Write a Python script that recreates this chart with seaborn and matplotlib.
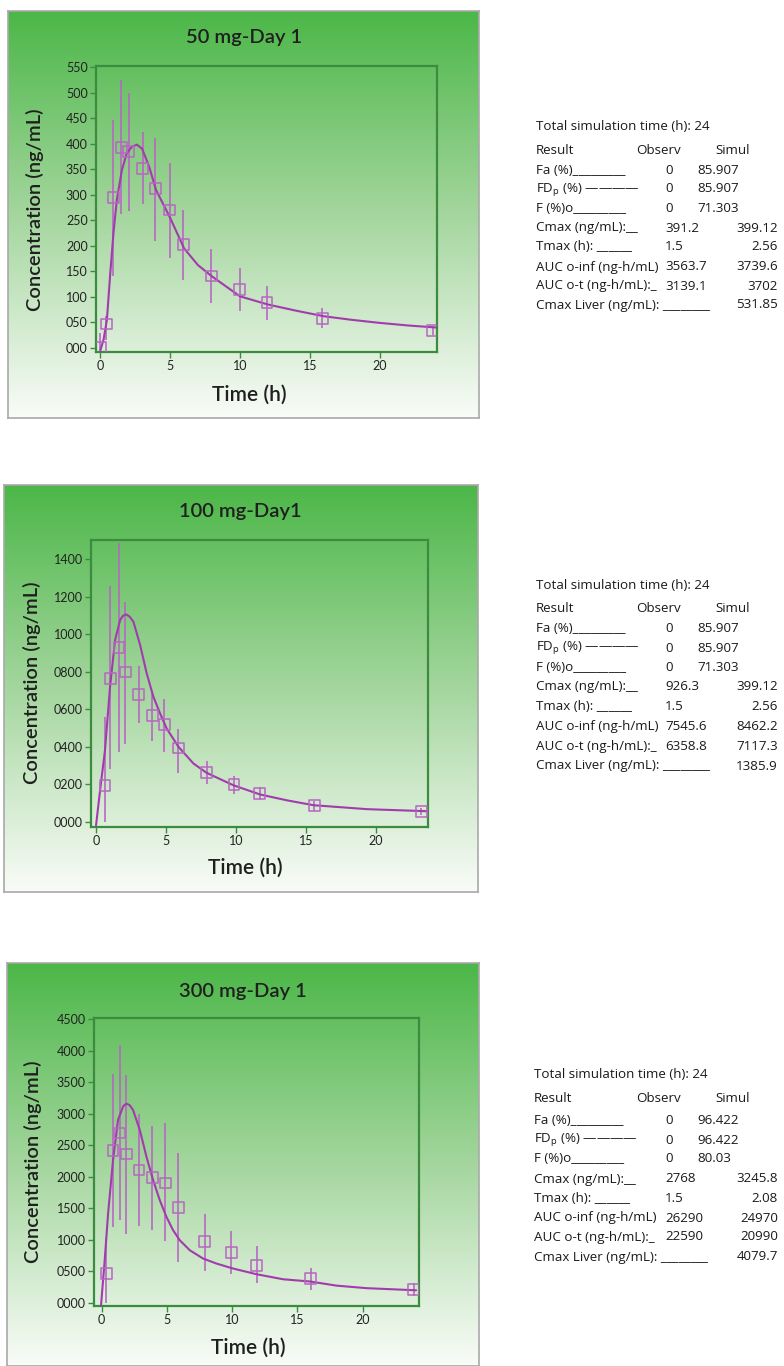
import matplotlib
matplotlib.use("Agg")
import matplotlib.pyplot as plt
import seaborn as sns
import numpy as np
import pandas as pd
from matplotlib.colors import LinearSegmentedColormap
from matplotlib.ticker import FixedLocator, FuncFormatter

# ---- data: observed points (time, mean, error bar low/high ends) ----
t50 = [0.0, 0.43, 0.95, 1.5, 2.03, 3.03, 3.94, 4.96, 5.94, 7.95, 9.98, 11.93, 15.9, 23.8]
c50 = [1, 47, 294, 392, 384, 351, 312, 270, 202, 141, 115, 89, 57, 34]
lo50 = [-5, 16, 140, 263, 268, 281, 210, 176, 133, 88, 72, 55, 39, 25]
hi50 = [29, 62, 447, 524, 500, 422, 412, 363, 270, 193, 156, 122, 78, 43]

t100 = [0.64, 1.03, 1.64, 2.1, 3.05, 4.03, 4.89, 5.89, 7.91, 9.85, 11.68, 15.59, 23.24]
c100 = [195, 764, 929, 798, 679, 567, 520, 394, 263, 199, 151, 89, 57]
lo100 = [0, 284, 373, 417, 529, 430, 373, 261, 201, 147, 119, 57, 36]
hi100 = [556, 1256, 1487, 1172, 831, 693, 657, 497, 323, 245, 187, 112, 76]

t300 = [0.36, 0.87, 1.38, 1.89, 2.86, 3.89, 4.88, 5.86, 7.88, 9.92, 11.87, 16.01, 23.9]
c300 = [461, 2417, 2693, 2359, 2104, 1988, 1898, 1511, 965, 795, 594, 382, 212]
lo300 = [0, 1203, 1309, 1097, 1219, 1150, 975, 647, 504, 461, 318, 196, 106]
hi300 = [1018, 3625, 4092, 3615, 2995, 2809, 2846, 2369, 1405, 1140, 896, 557, 318]

# ---- data: simulated curves ----
sim_t50 = [0.0, 0.24, 0.48, 0.72, 0.95, 1.19, 1.55, 1.9, 2.27, 2.63, 3.0, 3.5, 4.0,
           5.0, 6.0, 7.0, 8.0, 10.0, 12.0, 14.0, 16.0, 18.0, 20.0, 22.0, 24.0]
sim_c50 = [-6, 16, 55, 146, 225, 290, 348, 381, 394, 398, 390, 355, 309,
           255, 195, 162, 140, 101, 85, 73, 62, 55, 49, 44, 40]

sim_t100 = [0.0, 0.29, 0.64, 1.0, 1.36, 1.72, 1.92, 2.15, 2.4, 2.67, 3.15, 3.62, 4.1, 4.58, 5.05,
            5.89, 6.96, 7.91, 9.82, 11.73, 13.64, 15.54, 19.36, 23.65]
sim_c100 = [-18, 169, 382, 719, 968, 1075, 1097, 1105, 1093, 1066, 942, 791, 666, 577, 497,
            400, 311, 261, 195, 146, 115, 89, 68, 57]

sim_t300 = [-0.05, 0.23, 0.49, 0.87, 1.25, 1.64, 1.78, 1.94, 2.15, 2.4, 2.92, 3.43, 3.94, 4.45, 4.96,
            5.47, 5.98, 6.75, 7.77, 8.8, 10.08, 11.87, 13.91, 16.0, 18.0, 20.3, 24.1]
sim_c300 = [-42, 673, 1415, 2263, 2899, 3111, 3143, 3154, 3132, 3058, 2740, 2316, 1945, 1627, 1362,
            1150, 991, 832, 700, 620, 541, 451, 371, 335, 270, 230, 196]

titles = ["50 mg-Day 1", "100 mg-Day1", "300 mg-Day 1"]
yticks50 = [0, 50, 100, 150, 200, 250, 300, 350, 400, 450, 500, 550]
yticks100 = [0, 200, 400, 600, 800, 1000, 1200, 1400]
yticks300 = [0, 500, 1000, 1500, 2000, 2500, 3000, 3500, 4000, 4500]
xticks = [0, 5, 10, 15, 20]

# ---- table data ----
row_labels = ["Fa (%)_________", r"FD$_{\rm p}$ (%) ————", "F (%)o_________",
              "Cmax (ng/mL):__", "Tmax (h): ______", "AUC o-inf (ng-h/mL)",
              "AUC o-t (ng-h/mL):_", "Cmax Liver (ng/mL): ________"]
observ50 = ["0", "0", "0", "391.2", "1.5", "3563.7", "3139.1", ""]
simul50 = ["85.907", "85.907", "71.303", "399.12", "2.56", "3739.6", "3702", "531.85"]
observ100 = ["0", "0", "0", "926.3", "1.5", "7545.6", "6358.8", ""]
simul100 = ["85.907", "85.907", "71.303", "399.12", "2.56", "8462.2", "7117.3", "1385.9"]
observ300 = ["0", "0", "0", "2768", "1.5", "26290", "22590", ""]
simul300 = ["96.422", "96.422", "80.03", "3245.8", "2.08", "24970", "20990", "4079.7"]

W, H = 784, 1366
sns.set_style("white")
plt.rcParams['font.family'] = ['Lato', 'DejaVu Sans']
plt.rcParams['mathtext.fontset'] = 'custom'
plt.rcParams['mathtext.rm'] = 'Open Sans'
plt.rcParams['mathtext.it'] = 'Open Sans:italic'

fig = plt.figure(figsize=(W / 100, H / 100), dpi=100)
fig.patch.set_facecolor('white')

frame_col = '#3b8c3e'
curve_col = '#a03cac'
err_col = '#b766c2'
green_cmap = LinearSegmentedColormap.from_list('bg', ['#4cb748', '#a4d69e', '#f9fcf8'])


def box(x0, y0, x1, y1):
    return [x0 / W, 1 - y1 / H, (x1 - x0) / W, (y1 - y0) / H]


def fx(px):
    return px / W


def fy(py):
    return 1 - py / H


panels = [
    dict(pbox=(8, 11, 479, 418), abox=(96, 66, 437, 352), xlim=(-0.3, 24.1), ylim=(-8, 552),
         t=t50, c=c50, lo=lo50, hi=hi50, st=sim_t50, sc=sim_c50, yt=yticks50, fmt="{:03d}",
         title=(244, 38), ylab=(35, 210), xlab=(249, 395),
         obs=observ50, sim=simul50, tx=536,
         ty=[127, 150, 170, 189, 209, 228, 247, 267, 286, 305]),
    dict(pbox=(4, 485, 478, 892), abox=(91, 540, 428, 827), xlim=(-0.36, 23.72), ylim=(-27, 1501),
         t=t100, c=c100, lo=lo100, hi=hi100, st=sim_t100, sc=sim_c100, yt=yticks100, fmt="{:04d}",
         title=(240, 512), ylab=(32, 683), xlab=(245, 868),
         obs=observ100, sim=simul100, tx=536,
         ty=[585, 609, 629, 648, 668, 687, 707, 727, 746, 766]),
    dict(pbox=(7, 963, 479, 1366), abox=(94, 1018, 419, 1306), xlim=(-0.59, 24.32), ylim=(-53, 4516),
         t=t300, c=c300, lo=lo300, hi=hi300, st=sim_t300, sc=sim_c300, yt=yticks300, fmt="{:04d}",
         title=(243, 991), ylab=(33, 1162), xlab=(248, 1348),
         obs=observ300, sim=simul300, tx=534,
         ty=[1075, 1099, 1121, 1140, 1158, 1179, 1198, 1218, 1237, 1257]),
]

for i, p in enumerate(panels):
    # gradient panel background
    bg = fig.add_axes(box(*p['pbox']), zorder=0)
    grad = np.linspace(0, 1, 256).reshape(-1, 1)
    bg.imshow(grad, aspect='auto', cmap=green_cmap, extent=(0, 1, 0, 1))
    bg.set_xticks([])
    bg.set_yticks([])
    for s in bg.spines.values():
        s.set_color('#a9a9a9')
        s.set_linewidth(1.2)

    ax = fig.add_axes(box(*p['abox']), zorder=1)
    ax.patch.set_alpha(0)

    obs = pd.DataFrame({'t': p['t'], 'c': p['c']})
    sim = pd.DataFrame({'t': p['st'], 'c': p['sc']})
    yerr = [np.array(p['c']) - np.array(p['lo']), np.array(p['hi']) - np.array(p['c'])]
    ax.errorbar(p['t'], p['c'], yerr=yerr, fmt='none', ecolor=err_col, elinewidth=1.3,
                capsize=0, alpha=0.9, zorder=2)
    sns.lineplot(data=sim, x='t', y='c', ax=ax, color=curve_col, lw=1.5,
                 sort=False, estimator=None, zorder=3)
    sns.scatterplot(data=obs, x='t', y='c', ax=ax, marker='s', s=60,
                    facecolors='none', edgecolor=err_col, linewidth=1.1, zorder=4)

    ax.set_xlim(*p['xlim'])
    ax.set_ylim(*p['ylim'])
    ax.xaxis.set_major_locator(FixedLocator(xticks))
    ax.yaxis.set_major_locator(FixedLocator(p['yt']))
    fmt = p['fmt']
    ax.yaxis.set_major_formatter(FuncFormatter(lambda v, pos, fmt=fmt: fmt.format(int(round(v)))))
    ax.tick_params(axis='both', direction='out', length=4, width=1, color=frame_col,
                   labelsize=9, labelcolor='#222222', pad=2,
                   bottom=True, left=True)
    for s in ax.spines.values():
        s.set_color(frame_col)
        s.set_linewidth(1.6)
    ax.set_xlabel('')
    ax.set_ylabel('')

    fig.text(fx(p['title'][0]), fy(p['title'][1]), titles[i], ha='center', va='center',
             fontsize=14.5, fontweight='semibold', color='#1f1f1f')
    fig.text(fx(p['ylab'][0]), fy(p['ylab'][1]), 'Concentration (ng/mL)', ha='center', va='center',
             rotation=90, fontsize=14.5, fontweight='semibold', color='#1f1f1f')
    fig.text(fx(p['xlab'][0]), fy(p['xlab'][1]), 'Time (h)', ha='center', va='center',
             fontsize=15, fontweight='semibold', color='#1f1f1f')

    # results table on the right
    ty = p['ty']
    tx = p['tx']
    tkw = dict(fontsize=9.6, color='#1a1a1a', va='center', family=['Open Sans', 'DejaVu Sans'])
    fig.text(fx(tx), fy(ty[0]), 'Total simulation time (h): 24', **tkw)
    fig.text(fx(tx), fy(ty[1]), 'Result', **tkw)
    fig.text(fx(636), fy(ty[1]), 'Observ', **tkw)
    fig.text(fx(715), fy(ty[1]), 'Simul', **tkw)
    for r, lab in enumerate(row_labels):
        yy = fy(ty[r + 2])
        fig.text(fx(tx), yy, lab, **tkw)
        if p['obs'][r]:
            fig.text(fx(665), yy, p['obs'][r], **tkw)
        if r < 3:
            fig.text(fx(697), yy, p['sim'][r], **tkw)
        else:
            fig.text(fx(778), yy, p['sim'][r], ha='right', **tkw)

fig.savefig('out.png', dpi=100, facecolor='white')
